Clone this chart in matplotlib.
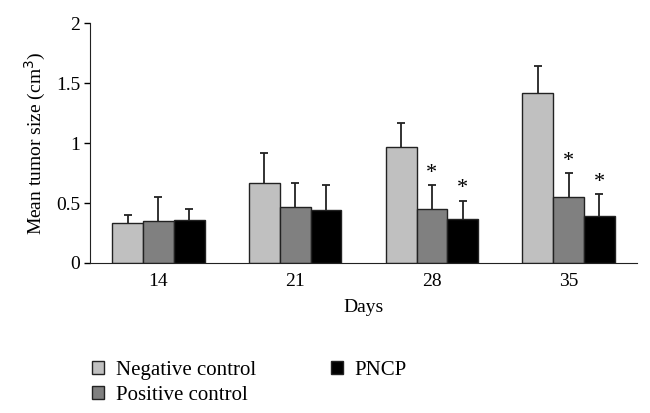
import matplotlib.pyplot as plt
import numpy as np

plt.rcParams['font.family'] = ['Liberation Serif', 'DejaVu Serif']

days = ['14', '21', '28', '35']
groups = ['Negative control', 'Positive control', 'PNCP']
negative = [0.33, 0.67, 0.97, 1.42]
positive = [0.35, 0.47, 0.45, 0.55]
pncp = [0.36, 0.44, 0.37, 0.39]
negative_err = [0.07, 0.25, 0.20, 0.22]
positive_err = [0.20, 0.20, 0.20, 0.20]
pncp_err = [0.09, 0.21, 0.15, 0.185]
# asterisk flags (significant vs negative control)
positive_sig = [False, False, True, True]
pncp_sig = [False, False, True, True]

colors = ['#c0c0c0', '#808080', '#000000']
series = [negative, positive, pncp]
errors = [negative_err, positive_err, pncp_err]
sigs = [None, positive_sig, pncp_sig]

fig = plt.figure(figsize=(6.5, 4.13), dpi=100)
ax = fig.add_axes([0.1385, 0.3632, 0.8415, 0.5808])

x = np.arange(len(days))
w = 0.225
cap = 0.03
for i, (vals, err, col, name) in enumerate(zip(series, errors, colors, groups)):
    pos = x + (i - 1) * w
    vals = np.array(vals)
    top = vals + np.array(err)
    ax.bar(pos, vals, w, color=col, edgecolor='#222222', linewidth=1.0, label=name, zorder=2)
    # upper error bars only
    ax.vlines(pos, vals, top, color='#222222', linewidth=1.3, zorder=1)
    ax.hlines(top, pos - cap, pos + cap, color='#222222', linewidth=1.3, zorder=1)
    if sigs[i] is not None:
        for p, t, s in zip(pos, top, sigs[i]):
            if s:
                ax.text(p, t + 0.02, '*', ha='center', va='bottom', fontsize=16)

ax.set_xlim(-0.5, 3.5)
ax.set_ylim(0, 2)
ax.set_yticks([0, 0.5, 1, 1.5, 2])
ax.set_yticklabels(['0', '0.5', '1', '1.5', '2'])
ax.set_xticks(x)
ax.set_xticklabels(days)
ax.tick_params(axis='x', length=0, labelsize=14, pad=7)
ax.tick_params(axis='y', length=4, width=1, labelsize=14, pad=3, direction='out')
ax.spines['top'].set_visible(False)
ax.spines['right'].set_visible(False)
ax.spines['left'].set_color('#222222')
ax.spines['bottom'].set_color('#222222')
ax.set_xlabel('Days', fontsize=14, labelpad=7)
ax.set_ylabel('Mean tumor size (cm$^3$)', fontsize=14, labelpad=6)

fig.legend(loc='upper left', bbox_to_anchor=(0.125, 0.152), ncol=2, frameon=False,
           fontsize=15, handlelength=0.6, handleheight=0.6, handletextpad=0.55,
           columnspacing=3.6, labelspacing=0.3, borderpad=0)

fig.savefig('out.png', dpi=100)
